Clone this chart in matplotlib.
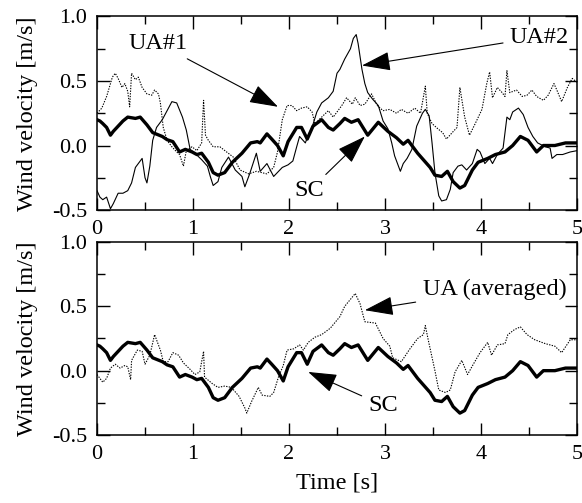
import matplotlib
matplotlib.use("Agg")
import matplotlib.pyplot as plt
from matplotlib.ticker import MultipleLocator, FormatStrFormatter

plt.rcParams["font.family"] = ["Liberation Serif", "DejaVu Serif"]

# SC (thick line, same record in both panels)
sc_t = [0, 0.03, 0.06, 0.10, 0.14, 0.17, 0.22, 0.27, 0.32, 0.40,
        0.45, 0.52, 0.58, 0.68, 0.73, 0.79, 0.86, 0.92, 0.99, 1.04,
        1.09, 1.16, 1.21, 1.26, 1.33, 1.41, 1.51, 1.60, 1.67, 1.70,
        1.77, 1.82, 1.88, 1.94, 1.99, 2.08, 2.13, 2.19, 2.25, 2.34,
        2.41, 2.46, 2.53, 2.58, 2.65, 2.72, 2.82, 2.93, 3.03, 3.12,
        3.19, 3.24, 3.34, 3.47, 3.52, 3.59, 3.65, 3.71, 3.78, 3.83,
        3.91, 3.97, 4.07, 4.15, 4.25, 4.33, 4.41, 4.49, 4.58, 4.65,
        4.77, 4.88, 5.0]
sc_v = [0.20, 0.19, 0.17, 0.14, 0.08, 0.11, 0.15, 0.19, 0.22, 0.21,
        0.22, 0.16, 0.10, 0.07, 0.045, 0.03, -0.05, -0.03, -0.05, -0.07,
        -0.06, -0.13, -0.21, -0.23, -0.21, -0.13, -0.06, 0.02, 0.03, 0.02,
        0.09, 0.05, 0.00, -0.08, 0.03, 0.14, 0.14, 0.05, 0.15, 0.20,
        0.14, 0.12, 0.17, 0.21, 0.18, 0.20, 0.08, 0.18, 0.11, 0.06,
        0.01, 0.04, -0.06, -0.17, -0.23, -0.24, -0.20, -0.28, -0.33, -0.31,
        -0.19, -0.13, -0.10, -0.07, -0.05, 0.00, 0.07, 0.04, -0.05, 0.00,
        0.00, 0.02, 0.02]

# UA#1 (dotted, top panel)
ua1_t = [0, 0.05, 0.10, 0.16, 0.19, 0.22, 0.26, 0.29, 0.32, 0.34,
         0.36, 0.40, 0.43, 0.47, 0.52, 0.57, 0.60, 0.64, 0.66, 0.69,
         0.73, 0.78, 0.83, 0.86, 0.90, 0.93, 0.99, 1.04, 1.09, 1.11,
         1.13, 1.16, 1.21, 1.28, 1.35, 1.42, 1.49, 1.58, 1.66, 1.77,
         1.84, 1.88, 1.93, 1.98, 2.03, 2.08, 2.13, 2.19, 2.24, 2.27,
         2.34, 2.41, 2.46, 2.55, 2.60, 2.66, 2.69, 2.74, 2.79, 2.86,
         2.92, 2.98, 3.05, 3.12, 3.17, 3.24, 3.31, 3.37, 3.42, 3.44,
         3.49, 3.55, 3.60, 3.64, 3.70, 3.75, 3.78, 3.83, 3.88, 3.94,
         4.01, 4.06, 4.09, 4.12, 4.17, 4.22, 4.25, 4.27, 4.30, 4.37,
         4.43, 4.48, 4.53, 4.58, 4.65, 4.70, 4.76, 4.79, 4.84, 4.90,
         4.95, 5.0]
ua1_v = [0.25, 0.29, 0.38, 0.53, 0.56, 0.52, 0.45, 0.48, 0.42, 0.30,
         0.56, 0.51, 0.53, 0.45, 0.40, 0.39, 0.43, 0.40, 0.33, 0.14,
         0.04, -0.01, -0.05, -0.07, -0.16, -0.04, -0.01, -0.04, 0.02, 0.35,
         0.08, 0.04, -0.01, -0.01, -0.05, -0.09, -0.19, -0.22, -0.20, -0.22,
         -0.17, -0.05, 0.20, 0.31, 0.31, 0.27, 0.29, 0.30, 0.26, 0.17,
         0.22, 0.27, 0.22, 0.31, 0.37, 0.32, 0.37, 0.31, 0.32, 0.40,
         0.31, 0.27, 0.28, 0.25, 0.28, 0.25, 0.29, 0.25, 0.46, 0.25,
         0.17, 0.13, 0.10, 0.05, 0.10, 0.14, 0.45, 0.22, 0.08, 0.17,
         0.28, 0.48, 0.57, 0.37, 0.45, 0.41, 0.38, 0.58, 0.41, 0.43,
         0.38, 0.39, 0.43, 0.38, 0.35, 0.39, 0.48, 0.43, 0.34, 0.45,
         0.52, 0.49]

# UA#2 (thin solid, top panel)
ua2_t = [0, 0.03, 0.06, 0.10, 0.14, 0.17, 0.22, 0.27, 0.32, 0.36,
         0.40, 0.43, 0.47, 0.50, 0.52, 0.55, 0.58, 0.62, 0.68, 0.73,
         0.78, 0.83, 0.89, 0.93, 0.97, 1.02, 1.09, 1.15, 1.18, 1.21,
         1.26, 1.30, 1.37, 1.44, 1.51, 1.54, 1.59, 1.66, 1.70, 1.77,
         1.84, 1.93, 1.99, 2.04, 2.08, 2.11, 2.17, 2.20, 2.24, 2.29,
         2.34, 2.41, 2.46, 2.50, 2.53, 2.58, 2.64, 2.67, 2.70, 2.72,
         2.76, 2.79, 2.82, 2.87, 2.93, 2.98, 3.03, 3.07, 3.10, 3.16,
         3.19, 3.23, 3.28, 3.33, 3.39, 3.42, 3.46, 3.49, 3.52, 3.56,
         3.59, 3.64, 3.68, 3.71, 3.76, 3.80, 3.85, 3.91, 3.96, 3.99,
         4.04, 4.09, 4.12, 4.17, 4.23, 4.27, 4.30, 4.33, 4.39, 4.44,
         4.49, 4.54, 4.59, 4.67, 4.72, 4.74, 4.79, 4.85, 4.93, 5.0]
ua2_v = [-0.35, -0.40, -0.42, -0.40, -0.49, -0.45, -0.37, -0.37, -0.35, -0.29,
         -0.17, -0.14, -0.10, -0.25, -0.29, -0.16, 0.04, 0.14, 0.20, 0.27,
         0.34, 0.33, 0.22, 0.12, -0.03, -0.06, -0.11, -0.16, -0.24, -0.31,
         -0.28, -0.17, -0.09, -0.19, -0.24, -0.32, -0.22, -0.06, -0.20, -0.14,
         -0.24, -0.17, -0.15, -0.12, -0.01, 0.07, 0.02, 0.08, 0.14, 0.26,
         0.33, 0.37, 0.42, 0.56, 0.59, 0.67, 0.75, 0.83, 0.86, 0.79,
         0.59, 0.48, 0.41, 0.36, 0.31, 0.19, 0.13, 0.02, -0.08, -0.20,
         -0.14, -0.10, -0.03, 0.15, 0.25, 0.28, 0.23, 0.02, -0.21, -0.39,
         -0.43, -0.42, -0.34, -0.21, -0.16, -0.15, -0.19, -0.14, -0.03, -0.05,
         -0.14, -0.10, -0.14, -0.07, -0.02, 0.22, 0.20, 0.26, 0.29, 0.24,
         0.14, 0.07, 0.02, -0.01, -0.02, -0.10, -0.07, -0.07, -0.05, -0.04]

# UA (averaged) (dotted, bottom panel)
uaavg_t = [0, 0.03, 0.06, 0.10, 0.14, 0.19, 0.24, 0.29, 0.32, 0.35,
           0.36, 0.42, 0.47, 0.50, 0.55, 0.60, 0.66, 0.69, 0.74, 0.79,
           0.85, 0.90, 0.97, 1.02, 1.07, 1.11, 1.12, 1.20, 1.26, 1.33,
           1.40, 1.48, 1.54, 1.56, 1.61, 1.68, 1.72, 1.80, 1.84, 1.89,
           1.94, 1.98, 2.05, 2.11, 2.15, 2.20, 2.27, 2.34, 2.43, 2.53,
           2.58, 2.69, 2.74, 2.79, 2.90, 2.98, 3.05, 3.08, 3.17, 3.26,
           3.34, 3.40, 3.42, 3.45, 3.52, 3.56, 3.63, 3.68, 3.73, 3.80,
           3.86, 3.92, 3.99, 4.04, 4.07, 4.11, 4.17, 4.25, 4.28, 4.35,
           4.41, 4.48, 4.56, 4.67, 4.77, 4.84, 4.93, 5.0]
uaavg_v = [-0.03, -0.06, -0.09, -0.06, 0.02, 0.05, 0.02, 0.04, 0.03, -0.07,
           0.08, 0.16, 0.15, 0.05, 0.12, 0.28, 0.16, 0.07, 0.07, 0.14,
           0.12, 0.06, 0.01, -0.03, -0.01, 0.15, -0.05, -0.10, -0.13, -0.12,
           -0.13, -0.20, -0.29, -0.33, -0.24, -0.13, -0.19, -0.20, -0.17, -0.05,
           0.04, 0.16, 0.17, 0.20, 0.16, 0.22, 0.26, 0.28, 0.33, 0.42,
           0.50, 0.60, 0.52, 0.38, 0.37, 0.25, 0.19, 0.10, 0.07, 0.17,
           0.25, 0.28, 0.35, 0.24, 0.00, -0.15, -0.17, -0.15, -0.01, 0.08,
           -0.03, 0.05, 0.14, 0.19, 0.22, 0.12, 0.20, 0.21, 0.28, 0.32,
           0.34, 0.28, 0.24, 0.21, 0.19, 0.14, 0.24, 0.24]

TICK_FS = 16
TEXT_FS = 17.5
ARROW = dict(arrowstyle="-|>,head_length=0.9,head_width=0.3", mutation_scale=20,
             lw=0.8, color="black", shrinkA=3, shrinkB=0)

fig = plt.figure(figsize=(5.82, 5.03), dpi=100)
ax_top = fig.add_axes([0.1667, 0.5825, 0.8247, 0.3847])
ax_bot = fig.add_axes([0.1667, 0.1352, 0.8247, 0.3837])

for ax in (ax_top, ax_bot):
    ax.set_xlim(0, 5)
    ax.set_ylim(-0.5, 1.0)
    ax.xaxis.set_major_locator(MultipleLocator(1))
    ax.xaxis.set_minor_locator(MultipleLocator(0.5))
    ax.yaxis.set_major_locator(MultipleLocator(0.5))
    ax.yaxis.set_minor_locator(MultipleLocator(0.25))
    ax.yaxis.set_major_formatter(FormatStrFormatter("%.1f"))
    ax.tick_params(which="both", direction="in", top=True, right=True,
                   labelsize=TICK_FS, width=1.0)
    ax.tick_params(which="major", length=9, pad=7)
    ax.tick_params(which="minor", length=6)
    for sp in ax.spines.values():
        sp.set_linewidth(1.1)
    ax.set_ylabel("Wind velocity [m/s]", fontsize=TEXT_FS, labelpad=10)
    ax.plot(sc_t, sc_v, color="black", lw=2.4, solid_joinstyle="round")

ax_top.plot(ua1_t, ua1_v, color="black", lw=0.8, linestyle=(0, (1.2, 1.2)))
ax_top.plot(ua2_t, ua2_v, color="black", lw=0.8)
ax_bot.plot(uaavg_t, uaavg_v, color="black", lw=0.8, linestyle=(0, (1.2, 1.2)))

ax_top.annotate("UA#1", xy=(1.885, 0.30), xytext=(0.64, 0.79), fontsize=TEXT_FS,
                ha="center", va="center", arrowprops=ARROW)
ax_top.annotate("UA#2", xy=(2.76, 0.62), xytext=(4.61, 0.84), fontsize=TEXT_FS,
                ha="center", va="center", arrowprops=ARROW)
ax_top.annotate("SC", xy=(2.79, 0.07), xytext=(2.21, -0.35), fontsize=TEXT_FS,
                ha="center", va="center", arrowprops=ARROW)
ax_bot.annotate("UA (averaged)", xy=(2.79, 0.47), xytext=(4.14, 0.63), fontsize=TEXT_FS,
                ha="center", va="center", arrowprops=ARROW)
ax_bot.annotate("SC", xy=(2.20, -0.01), xytext=(2.98, -0.27), fontsize=TEXT_FS,
                ha="center", va="center", arrowprops=ARROW)

ax_bot.set_xlabel("Time [s]", fontsize=TEXT_FS, labelpad=6)

fig.savefig("out.png", dpi=100)
